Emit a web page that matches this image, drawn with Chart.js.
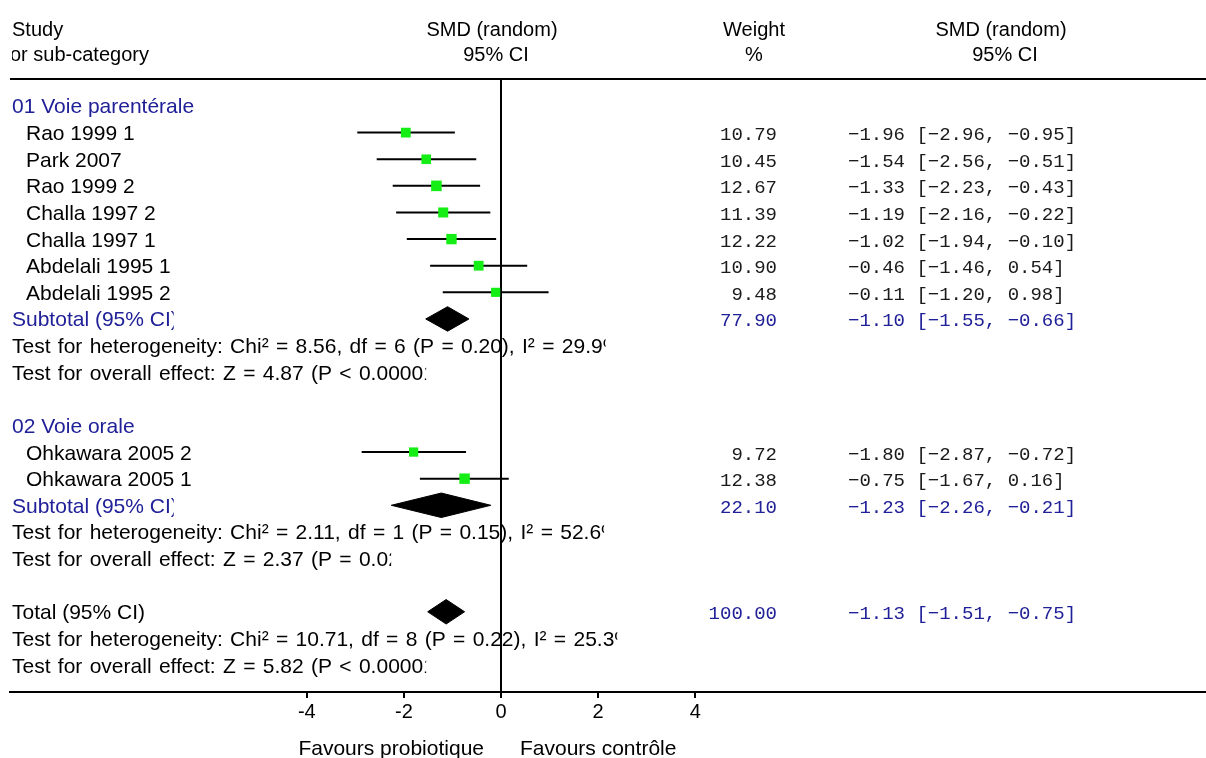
<!DOCTYPE html>
<html>
<head>
<meta charset="utf-8">
<script src="https://cdn.jsdelivr.net/npm/chart.js@4"></script>
<style>
  html, body { margin: 0; padding: 0; background: #fff; }
  #forest { display: block; }
</style>
</head>
<body>
<canvas id="forest" width="1206" height="758"></canvas>
<script>
// individual studies
const studies = ['Rao 1999 1', 'Park 2007', 'Rao 1999 2', 'Challa 1997 2', 'Challa 1997 1',
  'Abdelali 1995 1', 'Abdelali 1995 2', 'Ohkawara 2005 2', 'Ohkawara 2005 1'];
const studyRows = [1, 2, 3, 4, 5, 6, 7, 13, 14];
const smd = [-1.96, -1.54, -1.33, -1.19, -1.02, -0.46, -0.11, -1.80, -0.75];
const ciLow = [-2.96, -2.56, -2.23, -2.16, -1.94, -1.46, -1.20, -2.87, -1.67];
const ciHigh = [-0.95, -0.51, -0.43, -0.22, -0.10, 0.54, 0.98, -0.72, 0.16];
const weights = [10.79, 10.45, 12.67, 11.39, 12.22, 10.90, 9.48, 9.72, 12.38];

// subtotals + total
const pooledLabels = ['Subtotal (95% CI)', 'Subtotal (95% CI)', 'Total (95% CI)'];
const pooledRows = [8, 15, 19];
const pooledSmd = [-1.10, -1.23, -1.13];
const pooledLow = [-1.55, -2.26, -1.51];
const pooledHigh = [-0.66, -0.21, -0.75];
const pooledWeight = [77.90, 22.10, 100.00];

const groupTitles = ['01 Voie parentérale', '02 Voie orale'];
const groupRows = [0, 12];

const hetTests = [
  'Test for heterogeneity: Chi² = 8.56, df = 6 (P = 0.20), I² = 29.9%',
  'Test for heterogeneity: Chi² = 2.11, df = 1 (P = 0.15), I² = 52.6%',
  'Test for heterogeneity: Chi² = 10.71, df = 8 (P = 0.22), I² = 25.3%'
];
const hetRows = [9, 16, 20];
const effectTests = [
  'Test for overall effect: Z = 4.87 (P < 0.00001)',
  'Test for overall effect: Z = 2.37 (P = 0.02)',
  'Test for overall effect: Z = 5.82 (P < 0.00001)'
];
const effectRows = [10, 17, 21];

const xTicks = [-4, -2, 0, 2, 4];

const BLUE = '#202098';
const GREEN = '#14ee14';
const SANS = '21px "Liberation Sans", Arial, sans-serif';
const HEAD = '20px "Liberation Sans", Arial, sans-serif';
const MONO = '19px "Liberation Mono", "Courier New", monospace';

const fmt = v => (v < 0 ? '\u2212' : '') + Math.abs(v).toFixed(2);
const ciText = (m, lo, hi) => fmt(m) + ' [' + fmt(lo) + ', ' + fmt(hi) + ']';

const datasets = [
  {
    label: 'SMD',
    data: studies.map((s, i) => ({ x: smd[i], y: studyRows[i] })),
    pointStyle: 'rect',
    pointRadius: weights.map(w => Math.sqrt(w) * 2.1),
    backgroundColor: GREEN,
    borderColor: GREEN,
    pointBorderWidth: 0,
    showLine: false
  },
  ...studies.map((s, i) => ({
    label: s,
    data: [{ x: ciLow[i], y: studyRows[i] }, { x: ciHigh[i], y: studyRows[i] }],
    showLine: true,
    borderColor: '#000',
    borderWidth: 2,
    pointRadius: 0
  })),
  ...pooledSmd.map((m, i) => {
    const r = pooledRows[i];
    return {
      label: pooledLabels[i],
      data: [
        { x: pooledLow[i], y: r }, { x: m, y: r - 0.46 },
        { x: pooledHigh[i], y: r }, { x: m, y: r + 0.46 }, { x: pooledLow[i], y: r }
      ],
      showLine: true,
      fill: 'shape',
      backgroundColor: '#000',
      borderColor: '#000',
      borderWidth: 1,
      pointRadius: 0
    };
  }),
  {
    label: 'no effect',
    data: [{ x: 0, y: -1.01 }, { x: 0, y: 22.2 }],
    showLine: true,
    borderColor: '#000',
    borderWidth: 2,
    pointRadius: 0
  }
];

// text cut off after `shown` characters, leaving a sliver of the next one (like the original cells)
function put(ctx, text, x, y, opts) {
  ctx.save();
  ctx.font = opts.font || SANS;
  ctx.fillStyle = opts.color || '#000';
  ctx.textAlign = opts.align || 'left';
  ctx.textBaseline = 'alphabetic';
  if (opts.spacing) ctx.wordSpacing = opts.spacing;
  if (opts.shown) {
    const right = x + ctx.measureText(text.slice(0, opts.shown)).width + 3;
    ctx.beginPath();
    ctx.rect(0, y - 30, right, 40);
    ctx.clip();
  }
  if (opts.left) {
    ctx.beginPath();
    ctx.rect(opts.left, y - 30, 600, 40);
    ctx.clip();
  }
  ctx.fillText(text, x, y);
  ctx.restore();
}

const forestText = {
  id: 'forestText',
  beforeDatasetsDraw(chart) {
    const { ctx, scales: { y } } = chart;
    const yy = Math.round(y.getPixelForValue(-1.01));
    ctx.save();
    ctx.strokeStyle = '#000';
    ctx.lineWidth = 2;
    ctx.beginPath();
    ctx.moveTo(chart.chartArea.left, yy);
    ctx.lineTo(chart.chartArea.right, yy);
    ctx.stroke();
    ctx.restore();
  },
  afterDraw(chart) {
    const { ctx, scales: { y } } = chart;
    const base = r => y.getPixelForValue(r) + 7.5;

    // column headers
    put(ctx, 'Study', 12, base(-2.93), { font: HEAD });
    put(ctx, 'or sub-category', 10, base(-1.99), { font: HEAD, left: 12 });
    put(ctx, 'SMD (random)', 492, base(-2.93), { font: HEAD, align: 'center' });
    put(ctx, '95% CI', 496, base(-1.99), { font: HEAD, align: 'center' });
    put(ctx, 'Weight', 754, base(-2.93), { font: HEAD, align: 'center' });
    put(ctx, '%', 754, base(-1.99), { font: HEAD, align: 'center' });
    put(ctx, 'SMD (random)', 1001, base(-2.93), { font: HEAD, align: 'center' });
    put(ctx, '95% CI', 1005, base(-1.99), { font: HEAD, align: 'center' });

    groupTitles.forEach((t, i) => put(ctx, t, 12, base(groupRows[i]), { color: BLUE }));

    studies.forEach((s, i) => {
      const b = base(studyRows[i]);
      put(ctx, s, 26, b, {});
      put(ctx, weights[i].toFixed(2), 777, b, { font: MONO, align: 'right', color: '#1a1a1a' });
      put(ctx, ciText(smd[i], ciLow[i], ciHigh[i]), 848, b, { font: MONO, color: '#1a1a1a' });
    });

    pooledLabels.forEach((t, i) => {
      const b = base(pooledRows[i]);
      const isTotal = i === pooledLabels.length - 1;
      put(ctx, t, 12, b, { color: isTotal ? '#000' : BLUE, shown: isTotal ? 0 : t.length - 1 });
      put(ctx, pooledWeight[i].toFixed(2), 777, b, { font: MONO, align: 'right', color: BLUE });
      put(ctx, ciText(pooledSmd[i], pooledLow[i], pooledHigh[i]), 848, b, { font: MONO, color: BLUE });
    });

    hetTests.forEach((t, i) => put(ctx, t, 12, base(hetRows[i]), { shown: t.length - 1, spacing: '1.5px' }));
    const effectShown = [45, 42, 45];
    effectTests.forEach((t, i) => put(ctx, t, 12, base(effectRows[i]), { shown: effectShown[i], spacing: '1.5px' }));

    // direction labels under the axis
    put(ctx, 'Favours probiotique', 484, 755, { align: 'right' });
    put(ctx, 'Favours contrôle', 520, 755, {});
  }
};

const forestChart = new Chart(document.getElementById('forest'), {
  type: 'scatter',
  data: { datasets: datasets },
  options: {
    responsive: false,
    animation: false,
    devicePixelRatio: 1,
    layout: { autoPadding: false, padding: { left: 10, right: 0, top: 0, bottom: 0 } },
    plugins: { legend: { display: false }, tooltip: { enabled: false } },
    scales: {
      x: {
        type: 'linear',
        min: -10.113,
        max: 14.521,
        afterBuildTicks: s => { s.ticks = xTicks.map(v => ({ value: v })); },
        afterFit: s => { s.height = 66; },
        grid: { drawOnChartArea: false, drawTicks: true, tickLength: 6, color: '#000', lineWidth: 2 },
        border: { display: true, color: '#000', width: 2 },
        ticks: {
          color: '#000',
          font: { family: '"Liberation Sans", Arial, sans-serif', size: 20 },
          padding: 2,
          maxRotation: 0,
          autoSkip: false,
          callback: v => String(v)
        }
      },
      y: {
        type: 'linear',
        display: false,
        reverse: true,
        min: -3.982,
        max: 22.014
      }
    }
  },
  plugins: [forestText]
});
</script>
</body>
</html>
